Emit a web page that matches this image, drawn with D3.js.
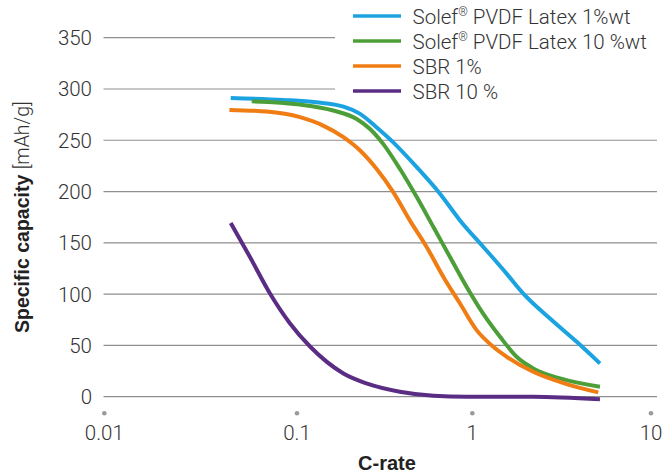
<!DOCTYPE html>
<html><head><meta charset="utf-8">
<script src="https://cdn.jsdelivr.net/npm/d3@7"></script>
<style>
html,body{margin:0;padding:0;background:#fff;}
svg{display:block;}
</style></head>
<body>
<svg id="chart" width="672" height="474"></svg>
<script>
// ---- data ----
const yTicks = [0, 50, 100, 150, 200, 250, 300, 350];
const xTicks = [0.01, 0.1, 1, 10];
const xTickLabels = ["0.01", "0.1", "1", "10"];
const seriesNames = ["Solef® PVDF Latex 1%wt", "Solef® PVDF Latex 10 %wt", "SBR 1%", "SBR 10 %"];
const seriesColors = ["#1ba3e1", "#4c9f38", "#f07d14", "#5b2c84"];

const solef1 = [
  [0.0453, 291.3], [0.085, 289.3], [0.129, 287], [0.184, 282.8], [0.229, 275.7],
  [0.284, 262.7], [0.354, 248], [0.482, 223.8], [0.654, 197.9], [0.851, 171.9],
  [1.153, 146], [1.555, 120], [1.93, 100.5], [2.72, 76.2], [3.84, 53.5], [5.18, 32.4]
];
const solef10 = [
  [0.0582, 288], [0.104, 284.8], [0.161, 279], [0.219, 270.8], [0.261, 261],
  [0.31, 246.5], [0.386, 222.2], [0.482, 194.6], [0.6, 165.4], [0.746, 136.2],
  [0.929, 107], [1.15, 81], [1.43, 58.4], [1.77, 38.9], [2.19, 27.6], [3.1, 17.8], [5.18, 9.7]
];
const sbr1 = [
  [0.0446, 279.6], [0.0695, 278], [0.104, 272.5], [0.141, 264.3], [0.184, 253],
  [0.229, 240], [0.284, 222.2], [0.354, 199.5], [0.44, 171.9], [0.549, 146],
  [0.684, 116.8], [0.851, 90.8], [1.057, 64.9], [1.31, 48.7], [1.56, 38.9],
  [2.19, 24.3], [3.37, 12.3], [5.07, 4.2]
];
const sbr10 = [
  [0.0453, 169.3], [0.057, 136.2], [0.0724, 100.6], [0.092, 71.4], [0.119, 48.7],
  [0.184, 22.7], [0.249, 13], [0.386, 4.9], [0.6, 1], [0.93, 0], [2.19, 0], [5.18, -2.6]
];
const seriesData = [solef1, solef10, sbr1, sbr10];

// ---- layout ----
const svg = d3.select("#chart");
const x = d3.scaleLog().domain([0.01, 0.1, 1, 10]).range([104.3, 297, 472.3, 651]);
const y = d3.scaleLinear().domain([0, 350]).range([396.7, 37.7]);
const gridLeft = 103.5, gridRight = 657;
const lightFont = "Roboto, 'Liberation Sans', Arial, sans-serif";
const boldFont = "'Liberation Sans', Arial, Helvetica, sans-serif";

// gridlines
svg.append("g").selectAll("line").data(yTicks).join("line")
  .attr("x1", gridLeft).attr("x2", gridRight)
  .attr("y1", d => y(d)).attr("y2", d => y(d))
  .attr("stroke", "#8f8f8f").attr("stroke-width", 1.2);

// y tick labels
svg.append("g").selectAll("text").data(yTicks).join("text")
  .attr("x", 92).attr("y", d => y(d) + 7.5)
  .attr("text-anchor", "end")
  .attr("font-family", lightFont).attr("font-weight", 300)
  .attr("font-size", 20.5).attr("fill", "#333")
  .text(d => d);

// x tick dots and labels
svg.append("g").selectAll("circle").data(xTicks).join("circle")
  .attr("cx", d => x(d)).attr("cy", 413.3).attr("r", 2.3).attr("fill", "#9a9a9a");
svg.append("g").selectAll("text").data(xTicks).join("text")
  .attr("x", d => x(d)).attr("y", 439.5)
  .attr("text-anchor", "middle")
  .attr("font-family", lightFont).attr("font-weight", 300)
  .attr("font-size", 20.5).attr("fill", "#333")
  .text((d, i) => xTickLabels[i]);

// axis titles
svg.append("text")
  .attr("x", 387).attr("y", 470)
  .attr("text-anchor", "middle")
  .attr("font-family", boldFont).attr("font-weight", "bold")
  .attr("font-size", 20).attr("fill", "#222")
  .text("C-rate");

const yt = svg.append("text")
  .attr("transform", "translate(28.5,333) rotate(-90)")
  .attr("text-anchor", "start")
  .attr("font-size", 19.5).attr("fill", "#222");
yt.append("tspan").attr("font-family", boldFont).attr("font-weight", "bold").text("Specific capacity ");
yt.append("tspan").attr("font-family", lightFont).attr("font-weight", 300).attr("fill", "#333").text("[mAh/g]");

// legend background
svg.append("rect").attr("x", 335).attr("y", 0).attr("width", 337).attr("height", 101).attr("fill", "#fff");

// curves
const line = d3.line().x(d => x(d[0])).y(d => y(d[1])).curve(d3.curveMonotoneX);
svg.append("g").selectAll("path").data(seriesData).join("path")
  .attr("d", d => line(d))
  .attr("fill", "none")
  .attr("stroke", (d, i) => seriesColors[i])
  .attr("stroke-width", 4)
  .attr("stroke-linecap", "butt")
  .attr("stroke-linejoin", "round");

// legend
const lg = svg.append("g");
const rowY = i => 16 + i * 25;
lg.selectAll("line").data(seriesNames).join("line")
  .attr("x1", 353).attr("x2", 401)
  .attr("y1", (d, i) => rowY(i)).attr("y2", (d, i) => rowY(i))
  .attr("stroke", (d, i) => seriesColors[i]).attr("stroke-width", 3.6);
lg.selectAll("text").data(seriesNames).join("text")
  .attr("x", 412.5).attr("y", (d, i) => rowY(i) + 7.5)
  .attr("font-family", lightFont).attr("font-weight", 300)
  .attr("font-size", 20.5).attr("fill", "#333")
  .each(function(d) {
    const t = d3.select(this);
    const parts = d.split("®");
    if (parts.length > 1) {
      t.append("tspan").text(parts[0]);
      t.append("tspan").attr("font-size", 12).attr("dy", -8).text("®");
      t.append("tspan").attr("dy", 8).text(parts[1]);
    } else {
      t.text(d);
    }
  });
</script>
</body></html>
